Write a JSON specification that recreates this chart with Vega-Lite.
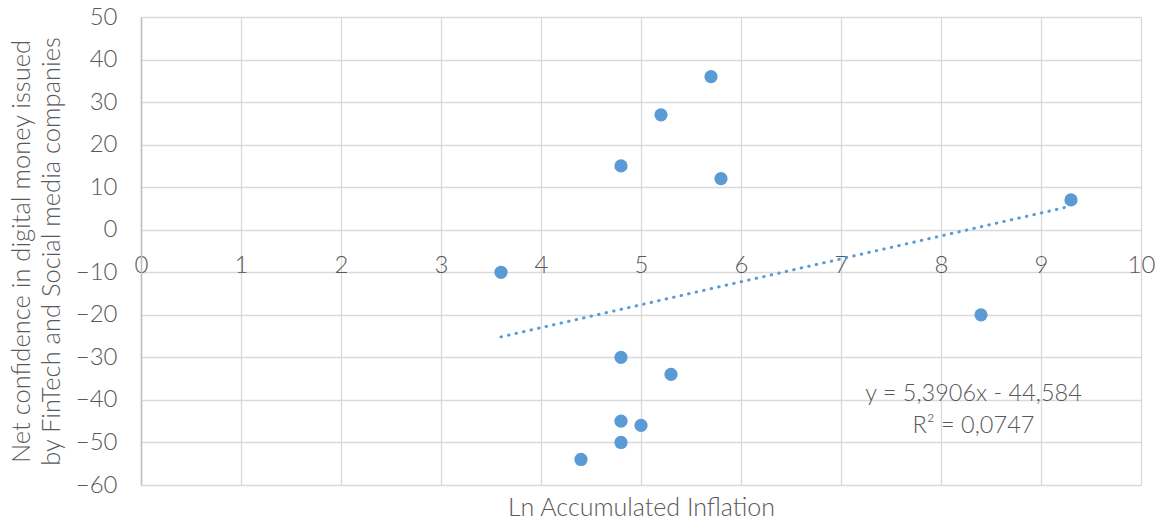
{
  "$schema": "https://vega.github.io/schema/vega-lite/v6.json",
  "autosize": "none",
  "width": 1000,
  "height": 468,
  "padding": {"left": 141, "top": 17, "right": 19, "bottom": 39},
  "background": "white",
  "config": {
    "view": {"stroke": null},
    "font": "Lato",
    "axis": {"labelFont": "Lato", "titleFont": "Lato", "labelColor": "#595959", "titleColor": "#595959", "labelFontWeight": 300, "titleFontWeight": 300}
  },
  "datasets": {
    "points": [
      {"lnInflation": 3.6, "confidence": -10},
      {"lnInflation": 4.4, "confidence": -54},
      {"lnInflation": 4.8, "confidence": 15},
      {"lnInflation": 4.8, "confidence": -30},
      {"lnInflation": 4.8, "confidence": -45},
      {"lnInflation": 4.8, "confidence": -50},
      {"lnInflation": 5.0, "confidence": -46},
      {"lnInflation": 5.2, "confidence": 27},
      {"lnInflation": 5.3, "confidence": -34},
      {"lnInflation": 5.7, "confidence": 36},
      {"lnInflation": 5.8, "confidence": 12},
      {"lnInflation": 8.4, "confidence": -20},
      {"lnInflation": 9.3, "confidence": 7}
    ],
    "trend": [
      {"lnInflation": 3.6, "confidence": -25.18},
      {"lnInflation": 9.3, "confidence": 5.55}
    ],
    "labels": [
      {"lnInflation": 8.325, "confidence": -40.2, "text": "y = 5,3906x - 44,584"},
      {"lnInflation": 8.325, "confidence": -47.7, "text": "R² = 0,0747"}
    ]
  },
  "layer": [
    {
      "data": {"name": "points"},
      "mark": {"type": "point", "filled": true, "opacity": 1, "size": 175, "color": "#5b9bd5"},
      "encoding": {
        "x": {
          "field": "lnInflation", "type": "quantitative",
          "scale": {"domain": [0, 10], "nice": false, "zero": false},
          "axis": {
            "values": [0, 1, 2, 3, 4, 5, 6, 7, 8, 9, 10],
            "format": "d",
            "offset": -255,
            "domain": false, "ticks": false, "tickSize": 0,
            "labelFontSize": 24, "labelPadding": 42, "labelBaseline": "alphabetic",
            "grid": true, "gridColor": "#d9d9d9", "gridWidth": 1.3,
            "title": "Ln Accumulated Inflation",
            "titleFontSize": 25, "titleY": 285, "titleBaseline": "alphabetic",
            "labelFlush": false
          }
        },
        "y": {
          "field": "confidence", "type": "quantitative",
          "scale": {"domain": [-60, 50], "nice": false, "zero": false},
          "axis": {
            "values": [-60, -50, -40, -30, -20, -10, 0, 10, 20, 30, 40, 50],
            "domain": true, "domainColor": "#bfbfbf", "domainWidth": 1.5,
            "ticks": false, "tickSize": 0,
            "labelFontSize": 24, "labelPadding": 24,
            "grid": true, "gridColor": "#d9d9d9", "gridWidth": 1.3,
            "title": ["Net confidence in digital money issued", "by FinTech and Social media companies"],
            "titleFontSize": 25.5, "titleLineHeight": 30,
            "titleX": -120, "titleY": 234, "titleAngle": -90,
            "titleAlign": "center", "titleBaseline": "middle"
          }
        }
      }
    },
    {
      "data": {"name": "trend"},
      "mark": {"type": "line", "color": "#5b9bd5", "strokeWidth": 3, "strokeCap": "round", "strokeDash": [0.5, 7.2]},
      "encoding": {
        "x": {"field": "lnInflation", "type": "quantitative"},
        "y": {"field": "confidence", "type": "quantitative"}
      }
    },
    {
      "data": {"name": "labels"},
      "mark": {"type": "text", "font": "Lato", "fontWeight": 300, "fontSize": 23.5, "color": "#595959", "align": "center", "baseline": "alphabetic"},
      "encoding": {
        "x": {"field": "lnInflation", "type": "quantitative"},
        "y": {"field": "confidence", "type": "quantitative"},
        "text": {"field": "text"}
      }
    }
  ]
}
